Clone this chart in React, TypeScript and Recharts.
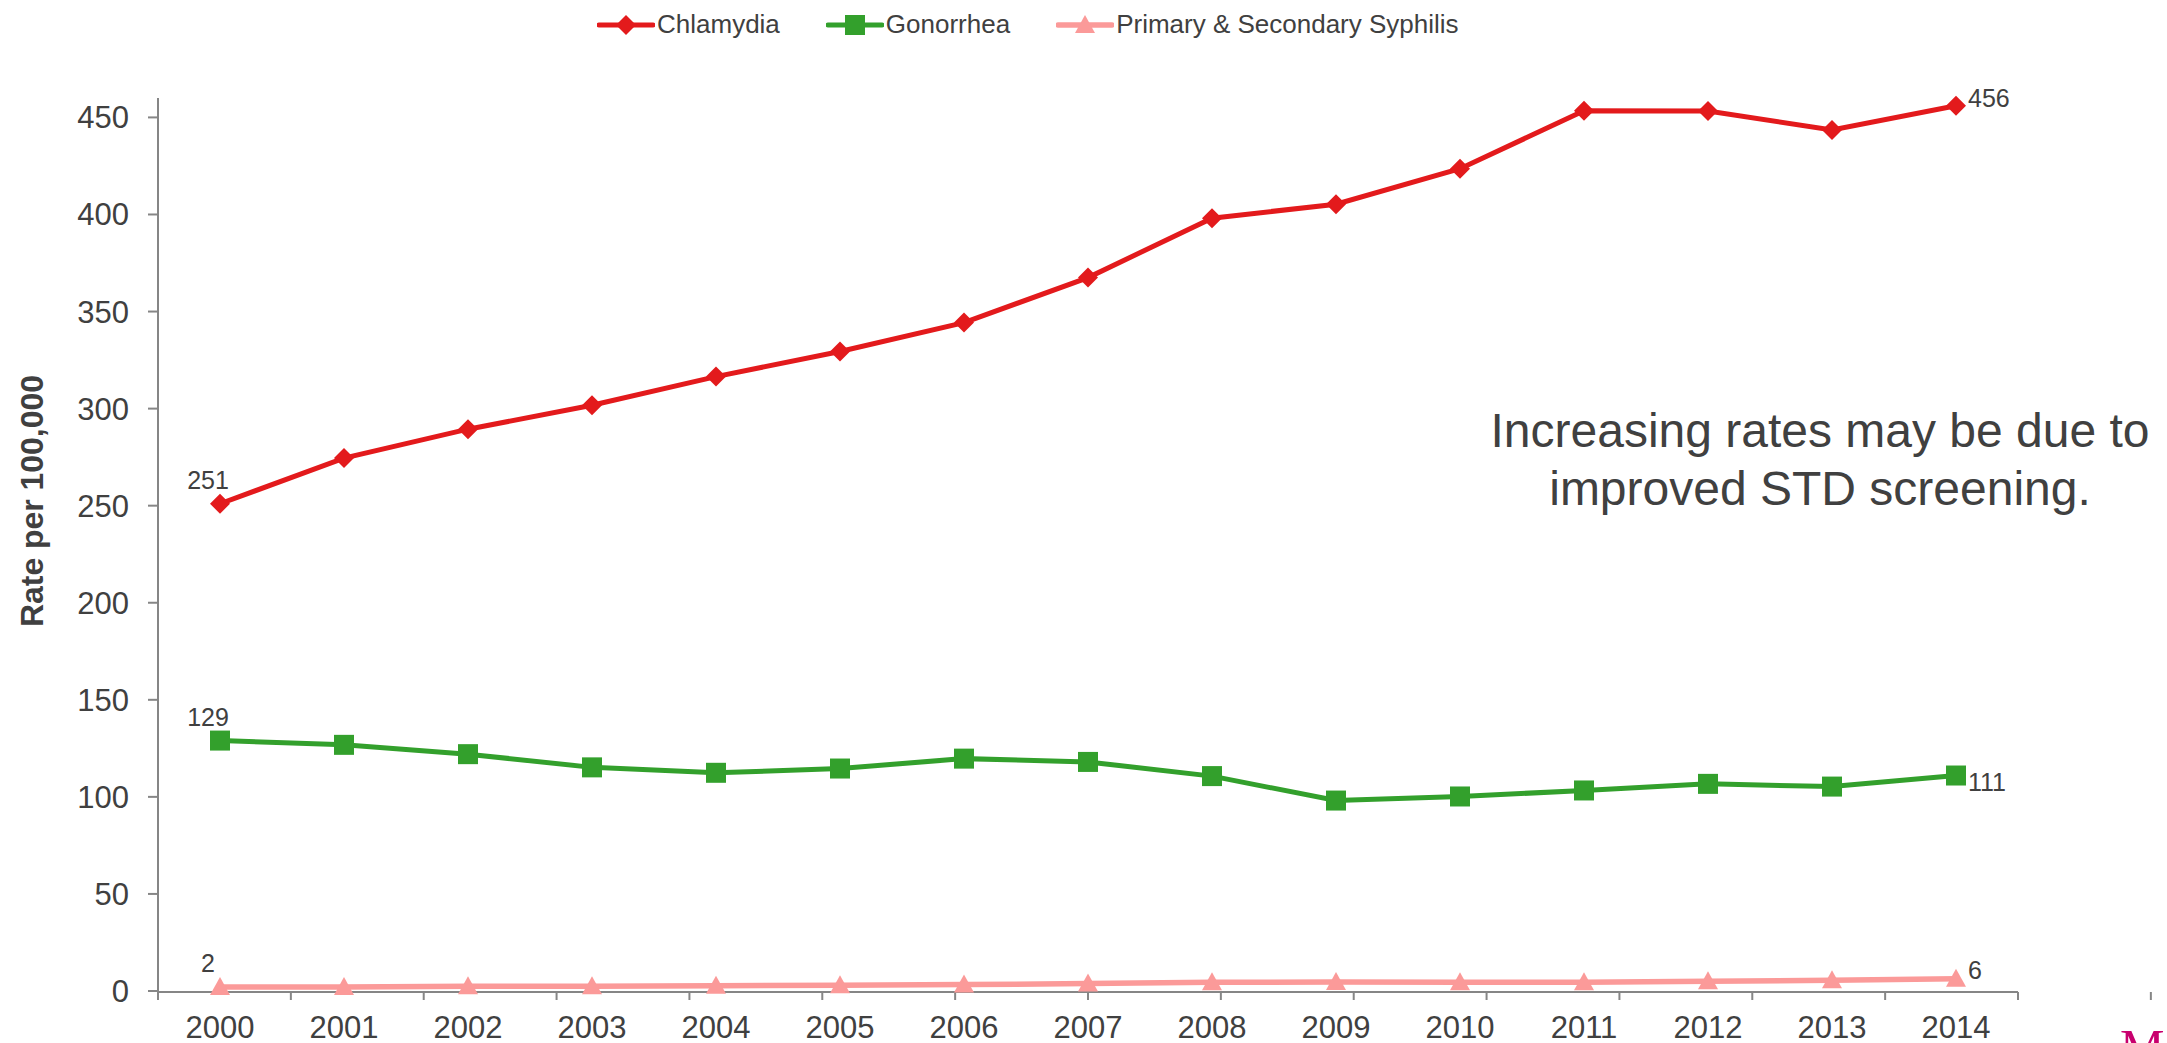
import React from 'react'
import { LineChart, Line, XAxis, YAxis, Legend, LabelList } from 'recharts'

// ─── Datos: tasas por 100,000 ────────────────────────────────────────────────

const YEARS = ['2000', '2001', '2002', '2003', '2004', '2005', '2006', '2007', '2008', '2009', '2010', '2011', '2012', '2013', '2014']
const CHLAMYDIA = [251, 274.5, 289.4, 301.7, 316.5, 329.4, 344.3, 367.5, 398.1, 405.3, 423.6, 453.4, 453.3, 443.5, 456]
const GONORRHEA = [129, 126.8, 122.0, 115.2, 112.4, 114.6, 119.7, 118.0, 110.7, 98.1, 100.2, 103.3, 106.7, 105.3, 111]
const SYPHILIS = [2.1, 2.1, 2.4, 2.5, 2.7, 2.9, 3.3, 3.8, 4.5, 4.6, 4.5, 4.5, 5.0, 5.5, 6.3]
const Y_TICKS = [0, 50, 100, 150, 200, 250, 300, 350, 400, 450]

const NOTE = ['Increasing rates may be due to', 'improved STD screening.']

const data = YEARS.map((year, i) => ({
  year,
  chlamydia: CHLAMYDIA[i],
  gonorrhea: GONORRHEA[i],
  syphilis: SYPHILIS[i],
}))

// límites entre categorías para las marcas del eje X
const EDGE_TICKS = [...YEARS.map((_, i) => i), YEARS.length]

type Shape = 'diamond' | 'square' | 'triangle'

interface Serie { key: string; name: string; color: string; shape: Shape; width: number; lastDy: number }

const SERIES: Serie[] = [
  { key: 'chlamydia', name: 'Chlamydia', color: '#e31a1c', shape: 'diamond', width: 5, lastDy: -8 },
  { key: 'gonorrhea', name: 'Gonorrhea', color: '#33a02c', shape: 'square', width: 5, lastDy: 6 },
  { key: 'syphilis', name: 'Primary & Secondary Syphilis', color: '#fb9a99', shape: 'triangle', width: 5.5, lastDy: -9 },
]

const FONT = '"Liberation Sans", Arial, sans-serif'
const TEXT = '#404040'
const AXIS = '#868686'

function Marker({ shape, cx, cy, color }: { shape: Shape; cx: number; cy: number; color: string }) {
  if (shape === 'diamond') {
    return <polygon points={`${cx},${cy - 10} ${cx + 10},${cy} ${cx},${cy + 10} ${cx - 10},${cy}`} fill={color} />
  }
  if (shape === 'square') {
    return <rect x={cx - 10} y={cy - 10} width={20} height={20} fill={color} />
  }
  return <polygon points={`${cx},${cy - 10} ${cx + 10},${cy + 8} ${cx - 10},${cy + 8}`} fill={color} />
}

function endLabels(s: Serie) {
  return (props: any) => {
    const { x, y, value, index } = props
    const last = YEARS.length - 1
    if (index !== 0 && index !== last) return null
    const text = Math.round(Number(value)).toString()
    if (index === 0) {
      return (
        <text key={`l${index}`} x={x - 12} y={y - 15} textAnchor="middle" fontSize={25} fontFamily={FONT} fill={TEXT}>
          {text}
        </text>
      )
    }
    return (
      <text key={`l${index}`} x={x + 12} y={y + s.lastDy} textAnchor="start" dominantBaseline="central" fontSize={25} fontFamily={FONT} fill={TEXT}>
        {text}
      </text>
    )
  }
}

function LegendContent() {
  return (
    <div style={{ display: 'flex', alignItems: 'center', fontFamily: FONT, fontSize: 26, color: TEXT, whiteSpace: 'nowrap' }}>
      {SERIES.map((s) => (
        <div key={s.key} style={{ display: 'flex', alignItems: 'center', marginRight: 46 }}>
          <svg width={58} height={24} style={{ marginRight: 2 }}>
            <line x1={2} y1={12} x2={56} y2={12} stroke={s.color} strokeWidth={s.width} strokeLinecap="round" />
            <Marker shape={s.shape} cx={29} cy={12} color={s.color} />
          </svg>
          <span>{s.name}</span>
        </div>
      ))}
    </div>
  )
}

export default function App() {
  return (
    <div style={{ position: 'absolute', left: 0, top: 0, width: 2167, height: 1043, background: '#fff', overflow: 'hidden' }}>
      <LineChart width={2167} height={1043} data={data} margin={{ top: 98, right: 149, left: 0, bottom: 50 }}>
        <XAxis xAxisId="edge" type="number" domain={[0, YEARS.length]} ticks={EDGE_TICKS} height={1}
          allowDataOverflow tickFormatter={() => ''} tickSize={8}
          axisLine={{ stroke: AXIS, strokeWidth: 2 }} tickLine={{ stroke: AXIS, strokeWidth: 2 }} />
        <XAxis xAxisId="cat" dataKey="year" height={1} padding={{ left: 62, right: 62 }} interval={0}
          axisLine={false} tickLine={false} tickSize={0} tickMargin={25}
          tick={{ fontSize: 31, fill: TEXT, fontFamily: FONT }} />
        <YAxis domain={[0, 460]} ticks={Y_TICKS} width={158} interval={0} tickSize={10} tickMargin={19}
          axisLine={{ stroke: AXIS, strokeWidth: 2 }} tickLine={{ stroke: AXIS, strokeWidth: 2 }}
          tick={{ fontSize: 31, fill: TEXT, fontFamily: FONT }} />
        <Legend verticalAlign="middle" align="center" layout="horizontal" content={LegendContent}
          wrapperStyle={{ top: 9, left: 597, width: 'auto' }} />
        {SERIES.map((s) => (
          <Line key={s.key} xAxisId="cat" dataKey={s.key} name={s.name} stroke={s.color} strokeWidth={s.width}
            isAnimationActive={false}
            dot={(p: any) => <Marker key={`d${p.index}`} shape={s.shape} cx={p.cx} cy={p.cy} color={s.color} />}
            activeDot={false}>
            <LabelList dataKey={s.key} content={endLabels(s)} />
          </Line>
        ))}
      </LineChart>
      <svg width={2167} height={1043} style={{ position: 'absolute', left: 0, top: 0, pointerEvents: 'none' }}>
        <text transform="translate(43,501) rotate(-90)" textAnchor="middle" fontSize={32} fontWeight="bold"
          fontFamily={FONT} fill={TEXT} textLength={252} lengthAdjust="spacingAndGlyphs">
          Rate per 100,000
        </text>
        {NOTE.map((line, i) => (
          <text key={i} x={1820} y={447 + i * 58} textAnchor="middle" fontSize={48} fontFamily={FONT} fill={TEXT}>
            {line}
          </text>
        ))}
        <text x={2120} y={1064} fontSize={50} fontFamily='"Liberation Serif", serif' fill="#c8006e">M</text>
      </svg>
    </div>
  )
}
